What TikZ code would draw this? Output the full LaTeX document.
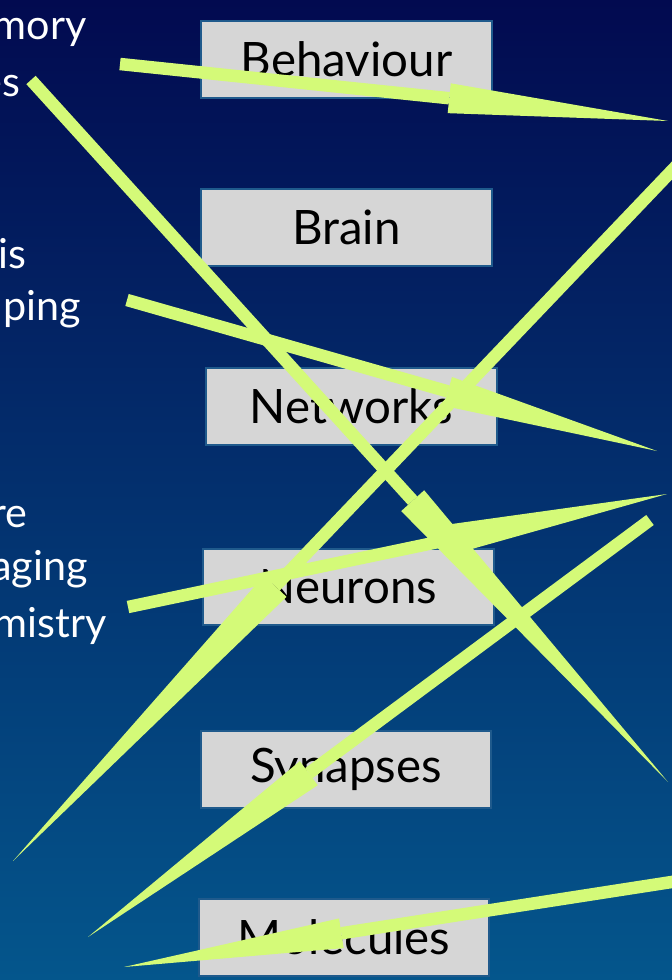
\documentclass[tikz,border=0pt]{standalone}
\usepackage{fontspec}
\setmainfont{Lato}
\usetikzlibrary{arrows.meta}

\definecolor{bgtop}{RGB}{2,10,80}
\definecolor{bgmid}{RGB}{3,26,96}
\definecolor{bgbot}{RGB}{4,86,140}
\definecolor{boxgray}{RGB}{214,214,214}
\definecolor{boxline}{RGB}{31,90,140}
\definecolor{lime}{RGB}{212,250,120}

\tikzset{
  level/.style={draw=boxline,line width=0.04cm,fill=boxgray,rectangle,
    minimum width=5.82cm,minimum height=1.54cm,inner sep=0pt,
    font=\fontsize{27}{30}\selectfont},
  side/.style={text=white,inner sep=0pt,anchor=base east,
    font=\fontsize{23.5}{28}\selectfont},
  link/.style={lime,line width=0.25cm},
}

\begin{document}
\begin{tikzpicture}[x=0.02cm,y=-0.02cm]
\useasboundingbox (0,0) rectangle (672,980);
\shade [top color=bgtop,middle color=bgmid,bottom color=bgbot] (0,0) rectangle (672,980);
\clip (0,0) rectangle (672,980);

% left column, cut off at the edge
\node [side] (mem1) at (87,40) {mory};
\node [side] (mem2) at (21,96) {es};
\node [side] (map1) at (27,268) {is};
\node [side] (map2) at (81,320) {ping};
\node [side] (img1) at (28,527) {re};
\node [side] (img2) at (88,580) {aging};
\node [side] (img3) at (107,637) {mistry};

% levels
\node [level] (beh) at (346.5,59.5) {Behaviour};
\node [level] (brn) at (346.5,227.5) {Brain};
\node [level] (net) at (351.5,406.5) {Networks};
\node [level] (neu) at (348.5,587) {Neurons};
\node [level] (syn) at (346,769) {Synapses};
\node [level] (mol) at (344,937.5) {Molecules};

% arrow ends
\coordinate (a1) at (120,64);  \coordinate (b1) at (668,121);
\coordinate (a2) at (31,80);   \coordinate (b2) at (668,782);
\coordinate (a3) at (127,300); \coordinate (b3) at (657,451);
\coordinate (a4) at (128,607); \coordinate (b4) at (667,494);
\coordinate (a5) at (682,160); \coordinate (b5) at (13,861);
\coordinate (a6) at (650,520); \coordinate (b6) at (88,937);
\coordinate (a7) at (678,881); \coordinate (b7) at (124,967);

\draw [link,-{Triangle[length=4.4cm,width=0.6cm,line width=0pt]}] (a1) -- (b1);
\draw [link,-{Triangle[length=7.6cm,width=0.62cm,line width=0pt]}] (a2) -- (b2);
\draw [link,-{Triangle[length=4.35cm,width=0.6cm,line width=0pt]}] (a3) -- (b3);
\draw [link,-{Triangle[length=4.4cm,width=0.6cm,line width=0pt]}] (a4) -- (b4);
\draw [link,-{Triangle[length=7.6cm,width=0.62cm,line width=0pt]}] (a5) -- (b5);
\draw [link,-{Triangle[length=5.5cm,width=0.6cm,line width=0pt]}] (a6) -- (b6);
\draw [link,-{Triangle[length=4.4cm,width=0.6cm,line width=0pt]}] (a7) -- (b7);
\end{tikzpicture}
\end{document}
